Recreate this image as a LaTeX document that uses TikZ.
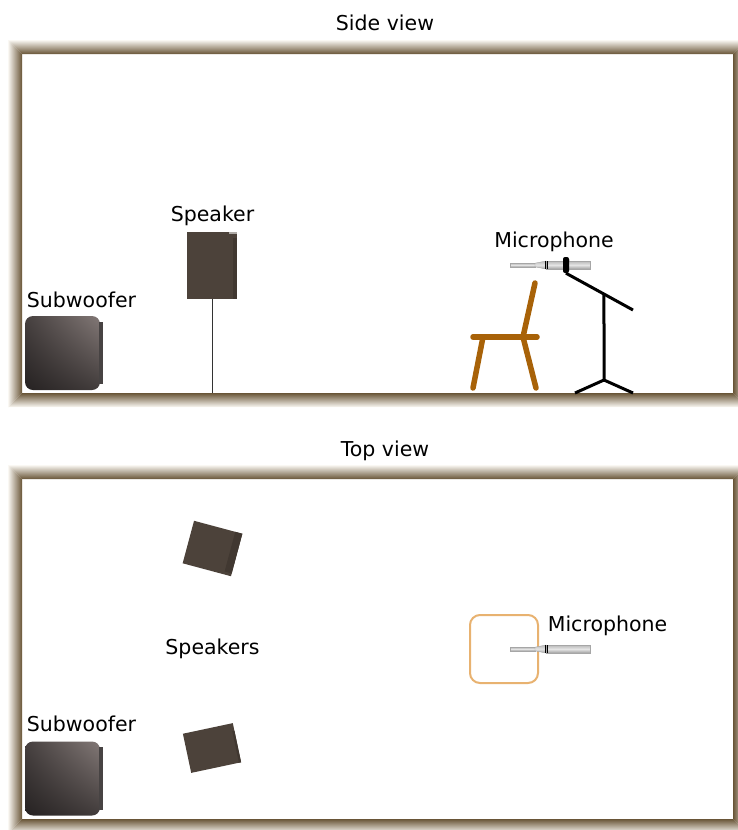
\documentclass[tikz,border=0pt]{standalone}
\usepackage{fontspec}
\setmainfont{DejaVu Sans}
\usetikzlibrary{positioning,calc,shadings}
\definecolor{WallDark}{RGB}{105,85,55}
\definecolor{WallLight}{RGB}{250,248,243}
\definecolor{BoxBrown}{RGB}{76,66,58}
\definecolor{ChairBrown}{RGB}{168,98,8}
\definecolor{RugOrange}{RGB}{232,178,112}
\definecolor{SubDark}{RGB}{38,34,34}
\definecolor{SubLight}{RGB}{130,120,118}
\tikzset{
  lbl/.style={font=\fontsize{20.5}{24}\selectfont,inner sep=0pt,anchor=base},
  spk/.style={fill=BoxBrown,inner sep=0pt,minimum width=50pt,minimum height=67pt,
    path picture={\fill[BoxBrown!85!black] ([xshift=-4pt,yshift=-6pt]path picture bounding box.north east) rectangle (path picture bounding box.south east);
      \fill[BoxBrown!45!white] ([xshift=-8pt]path picture bounding box.north east) rectangle ([yshift=-2pt]path picture bounding box.north east);}},
  sub/.style={rounded corners=8pt,inner sep=0pt,minimum width=75pt,minimum height=74pt,
    lower left=SubDark,upper right=SubLight,upper left=SubDark!65!SubLight,lower right=SubDark!70!SubLight},
  subedge/.style={fill=SubDark!85!white},
  pole/.style={draw=black!80,line width=0.8pt},
  chair/.style={draw=ChairBrown,line width=5.5pt,line cap=round,line join=round},
  stand/.style={draw=black,line width=3pt},
  clamp/.style={fill=black,inner sep=0pt,minimum width=6pt,minimum height=16pt,rounded corners=2.5pt},
  rug/.style={draw=RugOrange,line width=2pt,rounded corners=10pt,inner sep=0pt,minimum size=68pt},
  metal/.style={top color=gray!55,bottom color=gray!75,middle color=gray!20,draw=gray!70,line width=0.4pt},
}
% four bevelled walls round a room, outer corners #1,#2 and #3,#4
\newcommand{\roomwalls}[4]{%
  \shade[top color=WallLight,bottom color=WallDark] (#1,#2) -- (#3,#2) -- (#3-14,#2+14) -- (#1+14,#2+14) -- cycle;
  \shade[top color=WallDark,bottom color=WallLight] (#1,#4) -- (#3,#4) -- (#3-14,#4-14) -- (#1+14,#4-14) -- cycle;
  \shade[left color=WallLight,right color=WallDark] (#1,#2) -- (#1+14,#2+14) -- (#1+14,#4-14) -- (#1,#4) -- cycle;
  \shade[left color=WallDark,right color=WallLight] (#3,#2) -- (#3-14,#2+14) -- (#3-14,#4-14) -- (#3,#4) -- cycle;
}
% measuring microphone, tip at #1,#2
\newcommand{\micat}[2]{%
  \begin{scope}[shift={(#1,#2)}]
    \shade[metal] (0,-1.8) rectangle (25,1.8);
    \shade[metal] (25,-1.8) -- (36,-4) -- (36,4) -- (25,1.8) -- cycle;
    \shade[metal] (36,-4) rectangle (80,4);
    \draw[black,line width=0.8pt] (35,-4) -- (35,4) (37.5,-4) -- (37.5,4);
  \end{scope}}

\begin{document}
\begin{tikzpicture}[x=1pt,y=-1pt]
\fill[white] (0,0) rectangle (737,830);
\useasboundingbox (0,0) rectangle (737,830);

%% side view
\node[lbl] (sidetitle) at (385,30) {Side view};
\roomwalls{8}{40}{747}{407}

\node[sub] (subside) at (62.5,353) {};
\fill[subedge] ($(subside.north east)+(-1,6)$) rectangle ($(subside.south east)+(3,-6)$);
\node[lbl] (sublabel) at (81.5,307) {Subwoofer};

\node[spk] (spkside) at (212,265.5) {};
\coordinate (spkfoot) at (212,393);
\draw[pole] (spkside.south) -- (spkfoot);
\node[lbl] (spklabel) at (212.5,221) {Speaker};

\coordinate (backtop) at (535,283);
\coordinate (seatback) at (523,337);
\coordinate (rearfoot) at (536,388);
\coordinate (seatfront) at (473,337);
\coordinate (seatend) at (537,337);
\coordinate (fronttop) at (483,337);
\coordinate (frontfoot) at (473,388);
\draw[chair] (backtop) -- (seatback) -- (rearfoot);
\draw[chair] (seatfront) -- (seatend);
\draw[chair] (fronttop) -- (frontfoot);

\node[clamp] (clamp) at (566,265) {};
\coordinate (boomend) at (633,310);
\coordinate (standtop) at ($(clamp.south)!0.567!(boomend)$);
\coordinate (standfoot) at (604,380);
\coordinate (legl) at (575,393);
\coordinate (legr) at (633,393);
\draw[stand] (clamp.south) -- (boomend);
\draw[stand] (standtop) -- (standfoot);
\draw[stand] (legl) -- (standfoot) -- (legr);
\micat{510}{265}
\node[clamp] at (clamp) {};
\node[lbl] (micside) at (554,247) {Microphone};

%% top view
\node[lbl] (toptitle) at (385,456) {Top view};
\roomwalls{8}{465}{747}{833}

\node[spk,minimum width=50pt,minimum height=44pt,rotate=-15] (spkup) at (212.5,548.5) {};
\node[spk,minimum width=51pt,minimum height=40pt,rotate=12] (spkdown) at (212,748) {};
\node[lbl] (spkslabel) at (212.5,654) {Speakers};

\node[rug] (seat) at (504,649) {};
\micat{510}{649}
\node[lbl] (mictop) at (607.5,631) {Microphone};

\node[sub] (subtop) at (62.5,778.5) {};
\fill[subedge] ($(subtop.north east)+(-1,6)$) rectangle ($(subtop.south east)+(3,-6)$);
\node[lbl] (subtoplabel) at (81.5,731) {Subwoofer};
\end{tikzpicture}
\end{document}
